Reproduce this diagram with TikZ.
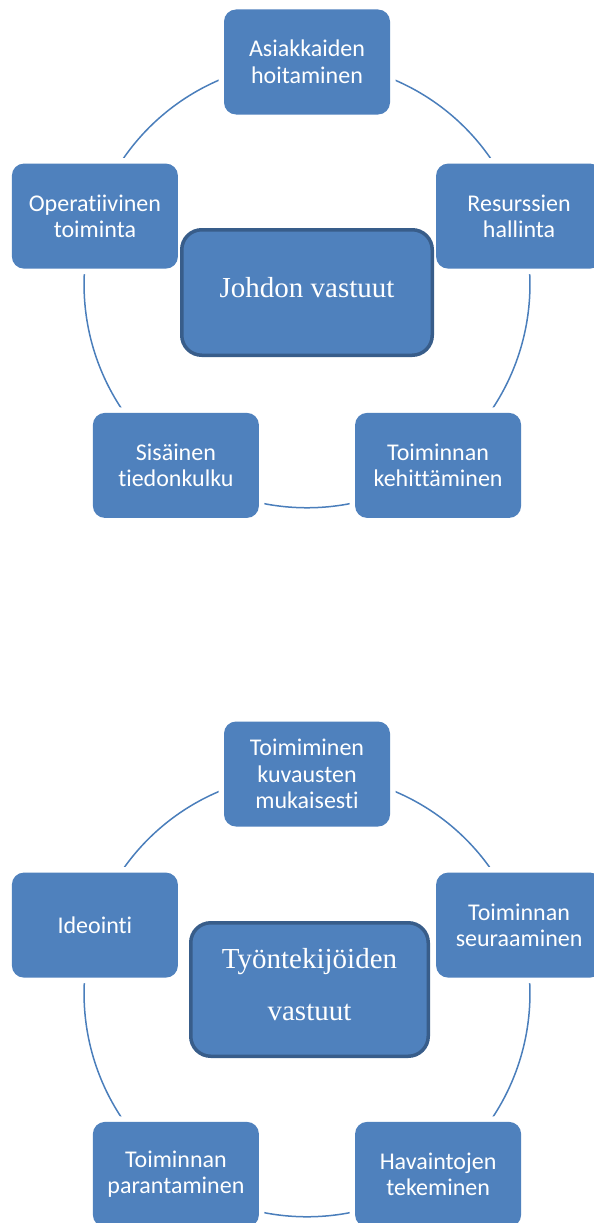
\documentclass[tikz,border=0pt]{standalone}
\usepackage{fontspec}
\setmainfont{Liberation Serif}
\newfontfamily\boxfont[RawFeature={-liga}]{Carlito}
\usetikzlibrary{backgrounds}
\definecolor{officeblue}{HTML}{4F81BD}
\definecolor{darkblue}{HTML}{385D8A}
\definecolor{linkblue}{HTML}{4A7EBB}
\begin{document}
\begin{tikzpicture}[x=1pt,y=1pt,
  item/.style={rectangle,rounded corners=12pt,fill=officeblue,text=white,
    minimum width=166pt,minimum height=105pt,inner sep=0pt,align=center,
    font=\boxfont\fontsize{24}{26.5}\selectfont,
    preaction={draw=white,line width=11pt}},
  core/.style={rectangle,rounded corners=20pt,fill=officeblue,draw=darkblue,
    line width=3.5pt,text=white,inner sep=0pt,align=center,text depth=11pt},
  link/.style={linkblue,line width=1.5pt,looseness=0.94}]
\useasboundingbox (0,0) rectangle (594,-1223);
\clip (0,0) rectangle (594,-1223);
% johdon vastuut
\node[item] (asiakkaat) at (307,-62){Asiakkaiden\\hoitaminen};
\node[item] (operat) at (94.9,-216.1){Operatiivinen\\toiminta};
\node[item] (resurssit) at (519.1,-216.1){Resurssien\\hallinta};
\node[item] (sisainen) at (175.9,-465.4){Sisäinen\\tiedonkulku};
\node[item] (kehitys) at (438.1,-465.4){Toiminnan\\kehittäminen};
\node[core,minimum width=250.5pt,minimum height=125.5pt,
  font=\fontsize{29}{34}\selectfont] (johto) at (307,-292.5){Johdon vastuut};
% tyontekijoiden vastuut
\node[item] (kuvaukset) at (307,-774){Toimiminen\\kuvausten\\mukaisesti};
\node[item] (ideointi) at (94.9,-925.1){Ideointi};
\node[item] (seuranta) at (519.1,-925.1){Toiminnan\\seuraaminen};
\node[item] (parannus) at (175.9,-1174.4){Toiminnan\\parantaminen};
\node[item] (havainnot) at (438.1,-1174.4){Havaintojen\\tekeminen};
\node[core,minimum width=237.5pt,minimum height=133.5pt,
  font=\fontsize{29}{52}\selectfont] (tyontekijat) at (309.5,-989.5){Työntekijöiden\\vastuut};
\begin{scope}[on background layer]
\draw[link] (asiakkaat.center) to[bend right=36] (operat.center);
\draw[link] (operat.center) to[bend right=36] (sisainen.center);
\draw[link] (sisainen.center) to[bend right=36] (kehitys.center);
\draw[link] (kehitys.center) to[bend right=36] (resurssit.center);
\draw[link] (resurssit.center) to[bend right=36] (asiakkaat.center);
\draw[link] (kuvaukset.center) to[bend right=36] (ideointi.center);
\draw[link] (ideointi.center) to[bend right=36] (parannus.center);
\draw[link] (parannus.center) to[bend right=36] (havainnot.center);
\draw[link] (havainnot.center) to[bend right=36] (seuranta.center);
\draw[link] (seuranta.center) to[bend right=36] (kuvaukset.center);
\end{scope}
\end{tikzpicture}
\end{document}
